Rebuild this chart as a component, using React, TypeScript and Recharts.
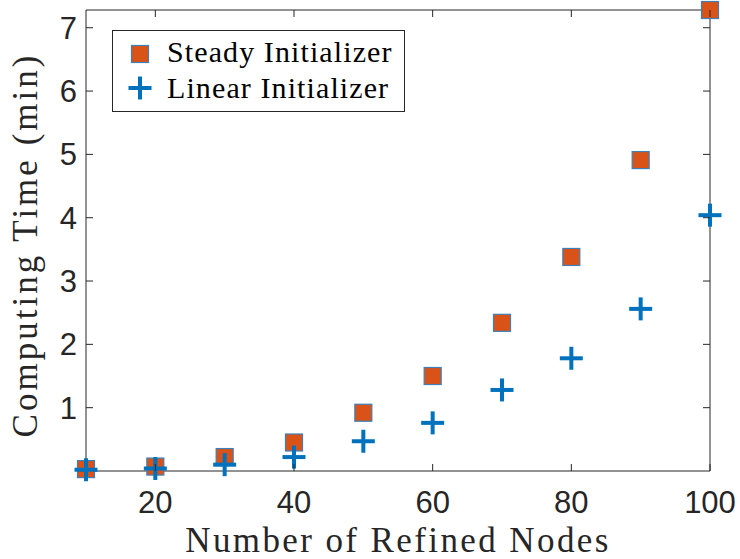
import { ReferenceArea, Scatter, ScatterChart, XAxis, YAxis } from "recharts";

const nodes = [10, 20, 30, 40, 50, 60, 70, 80, 90, 100];
const steadyTimes = [0.03, 0.07, 0.22, 0.45, 0.92, 1.5, 2.34, 3.38, 4.91, 7.28];
const linearTimes = [0.02, 0.04, 0.1, 0.22, 0.47, 0.76, 1.28, 1.78, 2.56, 4.04];
const xTicks = [20, 40, 60, 80, 100];
const yTicks = [1, 2, 3, 4, 5, 6, 7];

const steady = nodes.map((n, i) => ({ x: n, y: steadyTimes[i] }));
const linear = nodes.map((n, i) => ({ x: n, y: linearTimes[i] }));

const ORANGE = "#D95319";
const BLUE = "#0072BD";
const AXIS = "#262626";
const SERIF = "'Liberation Serif', 'Times New Roman', serif";
const SANS = "'Liberation Sans', Arial, Helvetica, sans-serif";

// plot box edges in px
const LEFT = 86;
const RIGHT = 710;
const TOP = 10;
const BOTTOM = 471;
const TICK = 7;

const Square = (props: any) => {
  const { cx, cy } = props;
  return <rect x={cx - 8.5} y={cy - 8.5} width={17} height={17} fill={ORANGE} stroke="#3D7FB8" strokeWidth={1.2} />;
};

const Plus = (props: any) => {
  const { cx, cy } = props;
  return (
    <g stroke={BLUE} strokeWidth={4}>
      <line x1={cx - 11.5} y1={cy} x2={cx + 11.5} y2={cy} />
      <line x1={cx} y1={cy - 11.5} x2={cx} y2={cy + 11.5} />
    </g>
  );
};

const XTick = (props: any) => {
  const { x, payload } = props;
  return (
    <g>
      <line x1={x} y1={BOTTOM} x2={x} y2={BOTTOM - TICK} stroke={AXIS} />
      <line x1={x} y1={TOP} x2={x} y2={TOP + TICK} stroke={AXIS} />
      <text x={x} y={513} textAnchor="middle" fontFamily={SANS} fontSize={31} fill={AXIS}>
        {payload.value}
      </text>
    </g>
  );
};

const YTick = (props: any) => {
  const { y, payload } = props;
  return (
    <g>
      <line x1={LEFT} y1={y} x2={LEFT + TICK} y2={y} stroke={AXIS} />
      <line x1={RIGHT} y1={y} x2={RIGHT - TICK} y2={y} stroke={AXIS} />
      <text x={77} y={y + 11} textAnchor="end" fontFamily={SANS} fontSize={31} fill={AXIS}>
        {payload.value}
      </text>
    </g>
  );
};

const LegendBox = () => (
  <svg width={294} height={83} style={{ position: "absolute", left: 112, top: 30 }}>
    <rect x={0.5} y={0.5} width={292} height={81} fill="#fff" stroke={AXIS} />
    <Square cx={28} cy={24} />
    <text x={55} y={32} fontFamily={SERIF} fontSize={30} letterSpacing={1.1} fill="#000">
      Steady Initializer
    </text>
    <Plus cx={28} cy={58} />
    <text x={55} y={68} fontFamily={SERIF} fontSize={30} letterSpacing={1.1} fill="#000">
      Linear Initializer
    </text>
  </svg>
);

const App = () => {
  return (
    <div style={{ position: "absolute", left: 0, top: 0, width: 740, height: 559, background: "#fff" }}>
      <ScatterChart
        width={740}
        height={559}
        margin={{ top: TOP, right: 740 - RIGHT, bottom: 0, left: 0 }}
      >
        <XAxis
          type="number"
          dataKey="x"
          domain={[10, 100]}
          ticks={xTicks}
          tick={<XTick />}
          tickLine={false}
          axisLine={false}
          height={559 - BOTTOM}
        />
        <YAxis
          type="number"
          dataKey="y"
          domain={[0, 7.28]}
          ticks={yTicks}
          tick={<YTick />}
          tickLine={false}
          axisLine={false}
          width={LEFT}
        />
        <ReferenceArea x1={10} x2={100} y1={0} y2={7.28} fill="none" stroke={AXIS} strokeWidth={1} />
        <Scatter data={steady} shape={<Square />} isAnimationActive={false} />
        <Scatter data={linear} shape={<Plus />} isAnimationActive={false} />
        <text x={398} y={552} textAnchor="middle" fontFamily={SERIF} fontSize={35} letterSpacing={2.4} fill={AXIS}>
          Number of Refined Nodes
        </text>
        <text
          x={37}
          y={245}
          textAnchor="middle"
          fontFamily={SERIF}
          fontSize={35}
          letterSpacing={3}
          fill={AXIS}
          transform="rotate(-90 37 245)"
        >
          Computing Time (min)
        </text>
      </ScatterChart>
      <LegendBox />
    </div>
  );
};

export default App;
